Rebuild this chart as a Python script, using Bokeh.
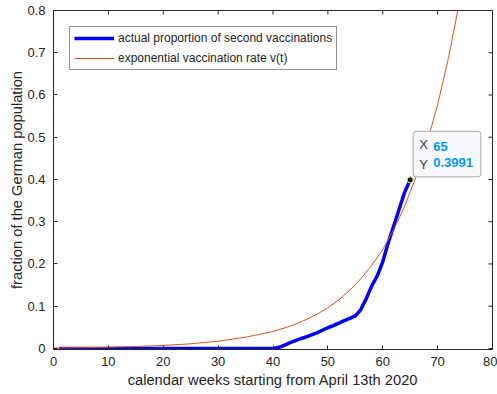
import math
from bokeh.plotting import figure
from bokeh.models import (Range1d, Legend, LegendItem, Label,
                          FixedTicker, ColumnDataSource)
from bokeh.embed import file_html
from bokeh.resources import INLINE

# ---------------- data ----------------
weeks_actual = [1, 2, 3, 4, 5, 6, 7, 8, 9, 10,
                11, 12, 13, 14, 15, 16, 17, 18, 19, 20,
                21, 22, 23, 24, 25, 26, 27, 28, 29, 30,
                31, 32, 33, 34, 35, 36, 37, 38, 39, 40,
                41, 42, 43, 44, 45, 46, 47, 48, 49, 50,
                51, 52, 53, 54, 55, 56, 57, 58, 59, 60,
                61, 62, 63, 64, 65]
actual = [0.0, 0.0, 0.0, 0.0, 0.0, 0.0, 0.0, 0.0, 0.0, 0.0,
          0.0, 0.0, 0.0, 0.0, 0.0, 0.0, 0.0, 0.0, 0.0, 0.0,
          0.0, 0.0, 0.0, 0.0, 0.0, 0.0, 0.0, 0.0, 0.0, 0.0,
          0.0, 0.0, 0.0, 0.0, 0.0, 0.0, 0.0, 0.0, 0.0, 0.0,
          0.002, 0.007, 0.013, 0.018, 0.023, 0.027, 0.032, 0.037, 0.043, 0.049,
          0.054, 0.060, 0.066, 0.071, 0.077, 0.092, 0.118, 0.148, 0.172, 0.205,
          0.250, 0.290, 0.330, 0.370, 0.3991]

weeks_model = [0, 5, 10, 15, 20, 25, 30, 35, 40, 42, 44, 46, 48, 50, 52, 54,
               56, 58, 60, 62, 64, 66, 68, 70, 72, 74, 76, 78, 80]
model = [0.0012, 0.0019, 0.0029, 0.0046, 0.0071, 0.011, 0.0171, 0.0266,
         0.040, 0.048, 0.057, 0.068, 0.081, 0.096, 0.115, 0.138, 0.165,
         0.197, 0.234, 0.281, 0.337, 0.404, 0.484, 0.577, 0.689, 0.821,
         0.98, 1.17, 1.39]

tip_x = [65]
tip_y = [0.3991]
tip_labels = ["X", "Y"]
tip_values = ["65", "0.3991"]

x_ticks = [0, 10, 20, 30, 40, 50, 60, 70, 80]
y_ticks = [0, 0.1, 0.2, 0.3, 0.4, 0.5, 0.6, 0.7, 0.8]

legend_labels = ["actual proportion of second vaccinations",
                 "exponential vaccination rate v(t)"]
x_label = "calendar weeks starting from April 13th 2020"
y_label = "fraction of the German population"

# ---------------- styling ----------------
FONT = "Liberation Sans"
TXT = "#262626"
AX = "#262626"

x_min, x_max = x_ticks[0], x_ticks[-1]
y_min, y_max = y_ticks[0], y_ticks[-1]

p = figure(width=497, height=394, output_backend="svg", toolbar_location=None,
           x_range=Range1d(x_min, x_max), y_range=Range1d(y_min - 0.0025, y_max),
           min_border_left=53, min_border_right=5, min_border_top=10,
           min_border_bottom=45)
p.grid.visible = False
p.background_fill_color = "white"
p.border_fill_color = "white"
p.outline_line_color = AX
p.outline_line_width = 1

for ax in (p.xaxis[0], p.yaxis[0]):
    ax.major_tick_in = 4
    ax.major_tick_out = 0
    ax.minor_tick_in = 0
    ax.minor_tick_out = 0
    ax.axis_line_color = AX
    ax.major_tick_line_color = AX
    ax.major_label_text_font = FONT
    ax.major_label_text_font_size = "13px"
    ax.major_label_text_color = TXT
    ax.axis_label_text_font = FONT
    ax.axis_label_text_font_size = "14.7px"
    ax.axis_label_text_font_style = "normal"
    ax.axis_label_text_color = TXT

p.xaxis[0].ticker = FixedTicker(ticks=x_ticks)
p.yaxis[0].ticker = FixedTicker(ticks=y_ticks)
p.xaxis[0].axis_label = x_label
p.yaxis[0].axis_label = y_label
p.xaxis[0].major_label_standoff = 7
p.xaxis[0].axis_label_standoff = 3
p.yaxis[0].major_label_standoff = 8
p.yaxis[0].axis_label_standoff = -1
p.yaxis[0].major_label_overrides = {0: "0"}

# box ticks on the right and top edges (half of each dash is clipped away)
p.scatter([x_max] * len(y_ticks), y_ticks, marker="dash", size=8,
          line_color=AX, line_width=1)
p.scatter(x_ticks, [y_max] * len(x_ticks), marker="dash", size=8,
          angle=math.pi / 2, line_color=AX, line_width=1)

src_a = ColumnDataSource(dict(x=weeks_actual, y=actual))
src_m = ColumnDataSource(dict(x=weeks_model, y=model))

r_a = p.line("x", "y", source=src_a, line_color="#0000FF", line_width=3.5,
             line_join="round")
r_m = p.line("x", "y", source=src_m, line_color="#D95319", line_width=1)

# datatip marker
p.scatter(tip_x, tip_y, size=6, fill_color="#111111", line_color="#E6E0A8",
          line_width=1)

legend = Legend(items=[LegendItem(label=legend_labels[0], renderers=[r_a]),
                       LegendItem(label=legend_labels[1], renderers=[r_m])],
                location=(16, 279), orientation="vertical",
                border_line_color=AX, border_line_width=1,
                background_fill_color="white", background_fill_alpha=1,
                label_text_font=FONT, label_text_font_size="12px",
                label_text_color=TXT, glyph_width=40, glyph_height=12,
                label_height=12, spacing=6, padding=4, margin=0,
                label_standoff=4)
p.add_layout(legend)

# datatip box holding the "X" / "Y" captions
box = Label(x=tip_x[0], y=tip_y[0], x_offset=3, y_offset=3,
            text="\n".join(tip_labels), text_font=FONT, text_font_size="13px",
            text_color="#404040", text_line_height=1.3,
            text_align="left", text_baseline="bottom",
            background_fill_color="#F9F9FF", background_fill_alpha=1,
            border_line_color="#A8A8A8", border_line_width=1,
            padding=dict(left=6, right=53, top=6, bottom=5), border_radius=3)
p.add_layout(box)

for txt, dy in zip(tip_values, (33, 17)):
    p.add_layout(Label(x=tip_x[0], y=tip_y[0], x_offset=23, y_offset=dy,
                       text=txt, text_font=FONT, text_font_size="13px",
                       text_font_style="bold", text_color="#0099FF",
                       text_align="left", text_baseline="middle"))

open("out.html", "w").write(file_html(p, INLINE))
